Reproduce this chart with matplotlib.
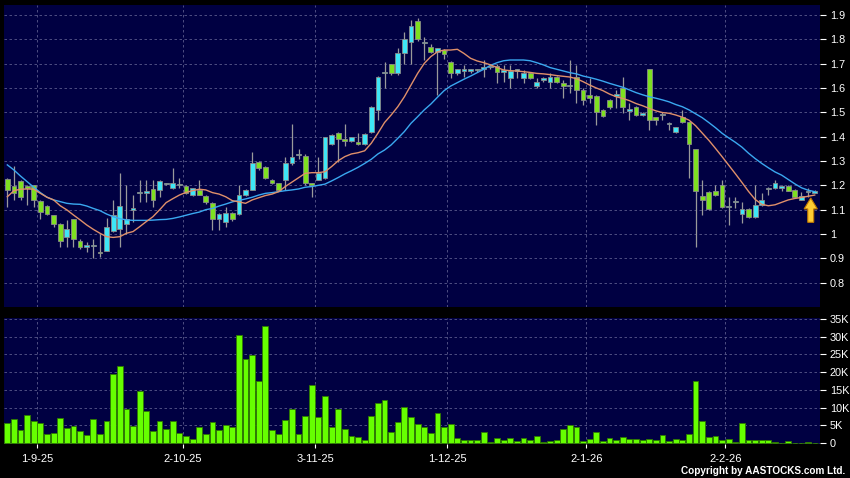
import matplotlib
matplotlib.use("Agg")
import matplotlib.pyplot as plt
from matplotlib.patches import FancyArrow
import numpy as np

plt.rcParams['font.family'] = ['Liberation Sans', 'DejaVu Sans']

# ---------------- data ----------------
date_labels = ["1-9-25", "2-10-25", "3-11-25", "1-12-25", "2-1-26", "2-2-26"]
month_start_idx = [5, 27, 47, 67, 88, 109]

opens = [1.227, 1.197, 1.219, 1.197, 1.200, 1.137, 1.117, 1.080, 1.040, 0.989,
         1.060, 0.970, 0.948, 0.950, 0.927, 0.931, 1.014, 1.020, 1.040, 1.100,
         1.168, 1.170, 1.186, 1.181, 1.205, 1.188, 1.200, 1.197, 1.160, 1.181,
         1.157, 1.129, 1.060, 1.049, 1.088, 1.082, 1.159, 1.181, 1.297, 1.277,
         1.222, 1.208, 1.222, 1.290, 1.323, 1.320, 1.208, 1.222, 1.229, 1.370,
         1.416, 1.389, 1.384, 1.379, 1.368, 1.418, 1.510, 1.661, 1.697, 1.660,
         1.745, 1.788, 1.877, 1.783, 1.767, 1.747, 1.756, 1.708, 1.660, 1.671,
         1.670, 1.674, 1.677, 1.685, 1.690, 1.667, 1.640, 1.670, 1.640, 1.660,
         1.608, 1.633, 1.626, 1.647, 1.619, 1.608, 1.647, 1.592, 1.571, 1.568,
         1.510, 1.551, 1.568, 1.599, 1.507, 1.520, 1.489, 1.677, 1.479, 1.489,
         1.452, 1.418, 1.479, 1.459, 1.348, 1.157, 1.171, 1.178, 1.201, 1.110,
         1.130, 1.081, 1.101, 1.068, 1.119, 1.185, 1.188, 1.188, 1.199, 1.181,
         1.140, 1.171, 1.170]
highs = [1.230, 1.280, 1.220, 1.200, 1.200, 1.140, 1.120, 1.080, 1.047, 1.058,
         1.060, 0.981, 0.968, 0.978, 1.000, 1.064, 1.140, 1.250, 1.200, 1.160,
         1.222, 1.222, 1.222, 1.220, 1.210, 1.270, 1.229, 1.200, 1.190, 1.222,
         1.160, 1.130, 1.085, 1.112, 1.090, 1.200, 1.185, 1.338, 1.300, 1.280,
         1.225, 1.210, 1.318, 1.452, 1.348, 1.330, 1.210, 1.318, 1.400, 1.410,
         1.420, 1.452, 1.400, 1.414, 1.415, 1.525, 1.650, 1.708, 1.700, 1.763,
         1.832, 1.879, 1.886, 1.810, 1.780, 1.765, 1.760, 1.710, 1.680, 1.695,
         1.680, 1.680, 1.715, 1.690, 1.700, 1.695, 1.695, 1.680, 1.674, 1.665,
         1.640, 1.647, 1.660, 1.650, 1.633, 1.715, 1.695, 1.600, 1.642, 1.570,
         1.515, 1.555, 1.592, 1.647, 1.537, 1.525, 1.500, 1.680, 1.480, 1.503,
         1.462, 1.438, 1.510, 1.460, 1.350, 1.222, 1.175, 1.200, 1.222, 1.153,
         1.153, 1.133, 1.105, 1.201, 1.170, 1.195, 1.222, 1.200, 1.200, 1.185,
         1.171, 1.188, 1.180]
lows = [1.110, 1.140, 1.140, 1.120, 1.110, 1.060, 1.080, 1.030, 0.948, 0.948,
        0.948, 0.940, 0.927, 0.900, 0.907, 0.930, 1.010, 0.948, 1.000, 1.050,
        1.133, 1.133, 1.112, 1.153, 1.200, 1.185, 1.190, 1.165, 1.155, 1.160,
        1.125, 1.016, 1.016, 1.030, 1.055, 1.080, 1.155, 1.180, 1.265, 1.225,
        1.205, 1.175, 1.180, 1.285, 1.310, 1.200, 1.153, 1.220, 1.225, 1.365,
        1.297, 1.360, 1.380, 1.365, 1.365, 1.415, 1.468, 1.600, 1.655, 1.655,
        1.700, 1.697, 1.795, 1.715, 1.745, 1.571, 1.720, 1.640, 1.655, 1.647,
        1.660, 1.665, 1.647, 1.680, 1.620, 1.626, 1.600, 1.640, 1.620, 1.635,
        1.600, 1.626, 1.600, 1.620, 1.557, 1.578, 1.537, 1.530, 1.537, 1.448,
        1.480, 1.515, 1.516, 1.496, 1.468, 1.485, 1.485, 1.427, 1.448, 1.468,
        1.427, 1.415, 1.455, 1.229, 0.948, 1.078, 1.100, 1.155, 1.105, 1.037,
        1.105, 1.047, 1.065, 1.065, 1.115, 1.160, 1.185, 1.175, 1.175, 1.148,
        1.138, 1.153, 1.168]
closes = [1.181, 1.170, 1.153, 1.188, 1.140, 1.089, 1.082, 1.040, 0.970, 1.019,
          0.978, 0.948, 0.952, 0.950, 0.920, 1.030, 1.078, 1.117, 1.060, 1.100,
          1.172, 1.170, 1.140, 1.218, 1.208, 1.208, 1.200, 1.170, 1.188, 1.160,
          1.131, 1.060, 1.081, 1.085, 1.060, 1.159, 1.180, 1.290, 1.270, 1.229,
          1.211, 1.181, 1.290, 1.318, 1.327, 1.208, 1.201, 1.249, 1.397, 1.407,
          1.389, 1.384, 1.397, 1.368, 1.410, 1.521, 1.647, 1.665, 1.660, 1.745,
          1.800, 1.856, 1.800, 1.783, 1.747, 1.763, 1.738, 1.660, 1.677, 1.671,
          1.670, 1.674, 1.688, 1.685, 1.667, 1.667, 1.670, 1.670, 1.660, 1.640,
          1.626, 1.633, 1.647, 1.626, 1.608, 1.608, 1.592, 1.550, 1.558, 1.500,
          1.486, 1.520, 1.568, 1.520, 1.507, 1.489, 1.499, 1.468, 1.468, 1.489,
          1.452, 1.438, 1.459, 1.368, 1.178, 1.140, 1.101, 1.160, 1.110, 1.110,
          1.130, 1.101, 1.068, 1.119, 1.140, 1.185, 1.208, 1.199, 1.178, 1.151,
          1.156, 1.171, 1.178]

ma_short = [1.153, 1.178, 1.184, 1.185, 1.184, 1.167, 1.151, 1.140, 1.116, 1.099,
            1.078, 1.058, 1.037, 1.019, 1.003, 0.989, 0.986, 0.989, 1.003, 1.010,
            1.030, 1.051, 1.071, 1.099, 1.129, 1.145, 1.160, 1.171, 1.178, 1.184,
            1.181, 1.170, 1.164, 1.153, 1.137, 1.132, 1.126, 1.140, 1.149, 1.158,
            1.164, 1.174, 1.195, 1.213, 1.231, 1.249, 1.252, 1.252, 1.256, 1.277,
            1.301, 1.318, 1.329, 1.334, 1.342, 1.373, 1.414, 1.458, 1.489, 1.523,
            1.564, 1.612, 1.660, 1.701, 1.729, 1.749, 1.756, 1.756, 1.759, 1.742,
            1.722, 1.711, 1.704, 1.695, 1.684, 1.674, 1.671, 1.670, 1.667, 1.664,
            1.660, 1.658, 1.655, 1.651, 1.648, 1.645, 1.638, 1.626, 1.612, 1.600,
            1.589, 1.575, 1.564, 1.557, 1.548, 1.536, 1.527, 1.516, 1.506, 1.499,
            1.496, 1.489, 1.480, 1.468, 1.445, 1.415, 1.385, 1.352, 1.318, 1.283,
            1.248, 1.212, 1.175, 1.142, 1.122, 1.116, 1.120, 1.130, 1.140, 1.146,
            1.150, 1.155, 1.160]
ma_long = [1.284, 1.263, 1.238, 1.215, 1.192, 1.170, 1.151, 1.140, 1.133, 1.126,
           1.123, 1.122, 1.115, 1.105, 1.096, 1.082, 1.071, 1.063, 1.058, 1.056,
           1.056, 1.056, 1.057, 1.059, 1.060, 1.064, 1.070, 1.077, 1.084, 1.090,
           1.100, 1.105, 1.115, 1.123, 1.132, 1.138, 1.144, 1.151, 1.160, 1.167,
           1.170, 1.174, 1.178, 1.181, 1.185, 1.192, 1.195, 1.200, 1.205, 1.218,
           1.232, 1.247, 1.260, 1.274, 1.290, 1.307, 1.329, 1.345, 1.366, 1.393,
           1.421, 1.455, 1.482, 1.510, 1.534, 1.562, 1.589, 1.608, 1.622, 1.636,
           1.649, 1.663, 1.677, 1.693, 1.704, 1.712, 1.715, 1.715, 1.715, 1.712,
           1.704, 1.695, 1.684, 1.677, 1.670, 1.663, 1.658, 1.649, 1.643, 1.636,
           1.628, 1.619, 1.611, 1.603, 1.592, 1.581, 1.572, 1.564, 1.558, 1.551,
           1.543, 1.532, 1.523, 1.510, 1.494, 1.478, 1.458, 1.437, 1.414, 1.395,
           1.377, 1.357, 1.332, 1.310, 1.290, 1.272, 1.255, 1.242, 1.224, 1.206,
           1.190, 1.180, 1.174]

volume_k = [5.5, 6.8, 3.7, 7.8, 6.2, 5.7, 2.6, 2.8, 7.1, 4.2,
            4.9, 3.3, 2.3, 6.9, 2.5, 6.3, 19.6, 21.8, 9.7, 4.7,
            14.8, 9.0, 3.4, 6.3, 4.0, 6.3, 2.9, 2.0, 1.0, 4.6,
            2.4, 5.8, 3.6, 5.2, 4.6, 30.6, 23.7, 24.9, 17.5, 33.1,
            3.6, 2.4, 6.5, 9.7, 2.5, 7.6, 16.3, 7.3, 13.4, 4.6,
            9.7, 3.9, 2.0, 1.6, 0.9, 7.5, 11.2, 12.2, 3.1, 5.9,
            10.1, 7.2, 5.4, 4.4, 2.8, 8.4, 4.4, 5.3, 1.3, 0.7,
            0.7, 0.7, 3.0, 0.3, 1.4, 0.9, 1.3, 0.5, 1.4, 0.7,
            1.9, 0.2, 0.6, 0.8, 3.8, 5.0, 4.4, 0.6, 1.0, 3.0,
            0.6, 1.4, 0.9, 1.6, 1.0, 1.0, 0.8, 1.2, 0.8, 2.3,
            0.5, 1.1, 0.8, 2.5, 17.5, 6.2, 1.7, 2.0, 0.8, 1.2,
            0.4, 5.5, 0.7, 0.7, 0.7, 0.9, 0.3, 0.0, 0.5, 0.1,
            0.1, 0.2, 0.05]

price_ticks = [0.8, 0.9, 1.0, 1.1, 1.2, 1.3, 1.4, 1.5, 1.6, 1.7, 1.8, 1.9]
price_tick_labels = ["0.8", "0.9", "1", "1.1", "1.2", "1.3", "1.4", "1.5", "1.6", "1.7", "1.8", "1.9"]
vol_ticks = [0, 5, 10, 15, 20, 25, 30, 35]
vol_tick_labels = ["0", "5K", "10K", "15K", "20K", "25K", "30K", "35K"]
copyright_text = "Copyright by AASTOCKS.com Ltd."

# ---------------- styling ----------------
BG = "#000000"
PANEL = "#000042"
GRID = "#5a5a8c"
UP = "#3ee6f6"
DOWN = "#7ee020"
BODY_EDGE = "#8a8a8a"
WICK = "#9a9a9a"
MA_S_COLOR = "#e0906a"
MA_L_COLOR = "#3aa8f0"
VOL_FILL = "#66ff00"
VOL_EDGE = "#2f7a00"

o = np.array(opens); h = np.array(highs); l = np.array(lows); c = np.array(closes)
n = len(o)
x = np.arange(n)

fig = plt.figure(figsize=(8.5, 4.78), dpi=100, facecolor=BG)
ax = fig.add_axes([4/850, 1-307/478, 816/850, 302/478])
axv = fig.add_axes([4/850, 1-444/478, 816/850, 126/478])

for a in (ax, axv):
    a.set_facecolor(PANEL)
    for s in a.spines.values():
        s.set_visible(False)
    a.set_xlim(-0.5, n - 0.2)

grid_x = [m - 0.5 for m in month_start_idx]

# price panel
ax.set_ylim(0.70, 1.941)
ax.set_yticks(price_ticks)
ax.set_yticklabels(price_tick_labels)
ax.yaxis.tick_right()
ax.tick_params(axis='y', colors='white', length=4, width=0.8, pad=3, labelsize=7.8)
ax.set_xticks(grid_x)
ax.tick_params(axis='x', length=0, labelbottom=False)
ax.grid(True, color=GRID, linestyle=(0, (3, 3)), linewidth=0.6)
ax.set_axisbelow(True)

up = c >= o
colors = np.where(up, UP, DOWN)
body_low = np.minimum(o, c)
body_h = np.maximum(np.abs(c - o), 0.006)
ax.vlines(x, l, h, color=WICK, linewidth=0.9, zorder=2)
ax.bar(x, body_h, bottom=body_low, width=0.72, color=colors,
       edgecolor=BODY_EDGE, linewidth=0.6, zorder=3)
ax.plot(x, ma_long, color=MA_L_COLOR, linewidth=1.0, zorder=4)
ax.plot(x, ma_short, color=MA_S_COLOR, linewidth=1.0, zorder=4)

# marker arrow under the latest bar
tip = lows[-2] - 0.005
ax.add_patch(FancyArrow(n - 1.6, tip - 0.1, 0, 0.1, width=0.9, head_width=2.0,
                        head_length=0.045, length_includes_head=True,
                        facecolor="#ffcc33", edgecolor="#c07800", linewidth=0.8, zorder=6))

# volume panel
axv.set_ylim(-0.3, 35.3)
axv.set_yticks(vol_ticks)
axv.set_yticklabels(vol_tick_labels)
axv.yaxis.tick_right()
axv.tick_params(axis='y', colors='white', length=4, width=0.8, pad=3, labelsize=7.8)
axv.set_xticks(grid_x)
axv.set_xticklabels(date_labels)
axv.tick_params(axis='x', colors='white', length=3, width=0.8, pad=4, labelsize=8)
axv.grid(True, color=GRID, linestyle=(0, (3, 3)), linewidth=0.6)
axv.set_axisbelow(True)
axv.bar(x, volume_k, width=0.88, color=VOL_FILL, edgecolor=VOL_EDGE, linewidth=0.6, zorder=3)

fig.text(845/850, 1 - 476/478, copyright_text, ha='right', va='bottom',
         color='white', fontsize=7.2, fontweight='bold')

fig.savefig("out.png", dpi=100, facecolor=BG)
